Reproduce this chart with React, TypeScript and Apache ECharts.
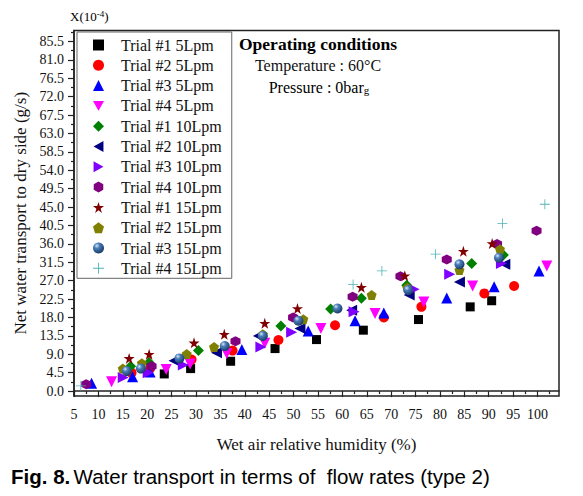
import React, { useEffect, useRef } from "react";
import * as echarts from "echarts";

const xTickLabels = [5, 10, 15, 20, 25, 30, 35, 40, 45, 50, 55, 60, 65, 70, 75, 80, 85, 90, 95, 100];
const xMinorTicks = [7.5, 12.5, 17.5, 22.5, 27.5, 32.5, 37.5, 42.5, 47.5, 52.5, 57.5, 62.5, 67.5, 72.5, 77.5, 82.5, 87.5, 92.5, 97.5, 102.5];
const yTickLabels = [0, 4.5, 9, 13.5, 18, 22.5, 27, 31.5, 36, 40.5, 45, 49.5, 54, 58.5, 63, 67.5, 72, 76.5, 81, 85.5];
const yMinorTicks = [2.25, 6.75, 11.25, 15.75, 20.25, 24.75, 29.25, 33.75, 38.25, 42.75, 47.25, 51.75, 56.25, 60.75, 65.25, 69.75, 74.25, 78.75, 83.25, 87.75];

const seriesNames = [
  "Trial #1 5Lpm", "Trial #2 5Lpm", "Trial #3 5Lpm", "Trial #4 5Lpm",
  "Trial #1 10Lpm", "Trial #2 10Lpm", "Trial #3 10Lpm", "Trial #4 10Lpm",
  "Trial #1 15Lpm", "Trial #2 15Lpm", "Trial #3 15Lpm", "Trial #4 15Lpm",
];

const t1_5 = [[23.5, 4.2], [28.9, 5.5], [37.1, 7.3], [46.2, 10.4], [54.7, 12.6], [64.3, 14.9], [75.6, 17.5], [86.2, 20.6], [90.6, 22.1]];
const t2_5 = [[16.8, 4.5], [20.6, 5.5], [29.1, 7.7], [37.5, 9.9], [46.9, 12.5], [58.5, 16.1], [68.5, 18.0], [76.2, 20.6], [89.1, 23.9], [95.2, 25.7]];
const t3_5 = [[8.6, 1.9], [17.0, 3.5], [20.6, 4.7], [39.4, 10.2], [53.0, 14.7], [62.6, 17.2], [68.5, 19.1], [81.4, 22.8], [91.1, 25.5], [100.3, 29.4]];
const t4_5 = [[12.7, 2.3], [23.9, 5.3], [28.8, 6.6], [36.3, 9.2], [44.1, 11.7], [55.6, 15.3], [66.7, 19.0], [76.7, 21.8], [86.7, 25.7], [101.9, 30.6]];
const t1_10 = [[16.6, 6.1], [20.4, 7.0], [30.5, 9.9], [47.4, 15.9], [57.6, 20.1], [63.9, 22.7], [73.2, 25.9], [86.5, 31.2], [93.0, 33.3]];
const t2_10 = [[25.5, 7.4], [34.2, 9.4], [42.8, 13.5], [51.3, 15.3], [61.9, 19.8], [73.7, 23.5], [84.0, 26.7], [93.3, 31.0]];
const t3_10 = [[15.1, 3.3], [20.2, 4.5], [27.4, 6.4], [43.3, 10.8], [49.6, 14.4], [62.4, 19.4], [74.7, 24.9], [82.0, 28.6], [92.6, 31.2]];
const t4_10 = [[7.5, 1.7], [20.9, 6.1], [38.1, 12.2], [49.9, 18.0], [62.1, 23.1], [71.9, 28.1], [81.4, 32.2], [91.7, 36.0], [99.8, 39.2]];
const t1_15 = [[16.3, 8.0], [20.4, 9.0], [29.6, 11.8], [35.8, 13.9], [44.1, 16.6], [50.8, 20.2], [63.9, 25.4], [72.8, 28.2], [84.8, 34.2], [90.7, 36.1]];
const t2_15 = [[15.0, 5.5], [18.9, 6.8], [28.1, 9.1], [33.7, 10.8], [43.7, 13.9], [52.0, 17.6], [66.0, 23.5], [73.3, 25.3], [84.0, 29.6], [92.3, 34.7]];
const t3_15 = [[15.8, 4.9], [18.7, 5.5], [26.6, 8.0], [35.9, 11.0], [43.7, 13.5], [51.0, 17.2], [59.0, 20.2], [73.5, 24.7], [84.0, 31.0], [92.1, 32.6]];
const t4_15 = [[6.4, 1.3], [62.2, 26.1], [68.1, 29.4], [79.1, 33.5], [92.8, 41.0], [101.5, 45.7]];

const seriesData = [t1_5, t2_5, t3_5, t4_5, t1_10, t2_10, t3_10, t4_10, t1_15, t2_15, t3_15, t4_15];

const HEX = "path://M5,0 L9.33,2.5 L9.33,7.5 L5,10 L0.67,7.5 L0.67,2.5 Z";
const STAR = "path://M5,0 L6.18,3.82 L10,3.82 L6.91,6.18 L8.09,10 L5,7.64 L1.91,10 L3.09,6.18 L0,3.82 L3.82,3.82 Z";
const PENT = "path://M5,0 L10,3.8 L8.1,10 L1.9,10 L0,3.8 Z";
const PLUS = "path://M0,4.6 L10,4.6 L10,5.4 L0,5.4 Z M4.6,0 L5.4,0 L5.4,10 L4.6,10 Z";
const TRI_DOWN = "path://M0,0 L10,0 L5,9 Z";
const TRI_LEFT = "path://M9,0 L9,10 L0,5 Z";
const TRI_RIGHT = "path://M0,0 L9,5 L0,10 Z";

const SERIF = "'Liberation Serif', 'Times New Roman', serif";
const SANS = "'Liberation Sans', Arial, sans-serif";

export default function App() {
  const ref = useRef<HTMLDivElement>(null);
  useEffect(() => {
    if (!ref.current) return;
    const chart = echarts.init(ref.current, undefined, { renderer: "svg" });
    const sphere = new echarts.graphic.RadialGradient(0.35, 0.3, 0.7, [
      { offset: 0, color: "#d8e6f6" },
      { offset: 0.35, color: "#4a7fba" },
      { offset: 1, color: "#1c3d6a" },
    ]);
    const styles: any[] = [
      { symbol: "rect", size: 9, color: "#000000" },
      { symbol: "circle", size: 10, color: "#ff0000" },
      { symbol: "triangle", size: 11, color: "#0000ff" },
      { symbol: TRI_DOWN, size: 11, color: "#ff00ff" },
      { symbol: "diamond", size: 11, color: "#008000" },
      { symbol: TRI_LEFT, size: 11, color: "#000080" },
      { symbol: TRI_RIGHT, size: 11, color: "#8000ff" },
      { symbol: HEX, size: 10, color: "#800080" },
      { symbol: STAR, size: 11, color: "#800000" },
      { symbol: PENT, size: 10, color: "#808000" },
      { symbol: "circle", size: 10, color: sphere },
      { symbol: PLUS, size: 10, color: "#4fb3b3" },
    ];
    const series = seriesNames.map((name, i) => ({
      name,
      type: "scatter",
      xAxisIndex: 0,
      yAxisIndex: 0,
      data: seriesData[i],
      symbol: styles[i].symbol,
      symbolSize: styles[i].size,
      itemStyle: { color: styles[i].color, opacity: 1 },
      z: 2 + i,
    }));
    chart.setOption({
      animation: false,
      backgroundColor: "#ffffff",
      grid: {
        left: 74,
        right: 24,
        top: 30.5,
        bottom: 100,
        show: true,
        borderColor: "#222",
        borderWidth: 1.5,
        containLabel: false,
      },
      legend: {
        orient: "vertical",
        left: 77,
        top: 32,
        width: 149,
        padding: [5, 10, 2, 16],
        borderColor: "#666",
        borderWidth: 1,
        itemWidth: 11,
        itemHeight: 11,
        itemGap: 4.3,
        formatter: (name: string) => "{p|}{n|" + name + "}",
        textStyle: {
          fontFamily: SERIF,
          fontSize: 16,
          color: "#111",
          lineHeight: 16,
          rich: {
            p: { width: 12, fontSize: 16, lineHeight: 16 },
            n: { fontFamily: SERIF, fontSize: 16, color: "#111", lineHeight: 16 },
          },
        },
        data: seriesNames,
      },
      xAxis: [
        {
          type: "value",
          min: 5,
          max: 104.4,
          position: "bottom",
          axisLine: { lineStyle: { color: "#222", width: 1.5 } },
          axisTick: { show: true, length: 6, customValues: xTickLabels, lineStyle: { color: "#222", width: 1.2 } },
          axisLabel: { customValues: xTickLabels, fontFamily: SERIF, fontSize: 14, color: "#111", margin: 11 },
          splitLine: { show: false },
          name: "Wet air relative humidity (%)",
          nameLocation: "middle",
          nameGap: 40,
          nameTextStyle: { fontFamily: SERIF, fontSize: 17, color: "#111" },
        },
        {
          type: "value",
          min: 5,
          max: 104.4,
          position: "bottom",
          offset: 0,
          axisLine: { show: false },
          axisTick: { show: true, length: 3, customValues: xMinorTicks, lineStyle: { color: "#222", width: 1.2 } },
          axisLabel: { show: false },
          splitLine: { show: false },
        },
      ],
      yAxis: [
        {
          type: "value",
          min: -1.2,
          max: 88.2,
          position: "left",
          axisLine: { show: true, lineStyle: { color: "#222", width: 1.5 } },
          axisTick: { show: true, length: 6, customValues: yTickLabels, lineStyle: { color: "#222", width: 1.2 } },
          axisLabel: {
            customValues: yTickLabels,
            fontFamily: SERIF,
            fontSize: 14,
            color: "#111",
            margin: 10,
            formatter: (v: number) => v.toFixed(1),
          },
          splitLine: { show: false },
          name: "Net water transport to dry side (g/s)",
          nameLocation: "middle",
          nameGap: 43,
          nameRotate: 90,
          nameTextStyle: { fontFamily: SERIF, fontSize: 17, color: "#111" },
        },
        {
          type: "value",
          min: -1.2,
          max: 88.2,
          position: "left",
          offset: 0,
          axisLine: { show: false },
          axisTick: { show: true, length: 3, customValues: yMinorTicks, lineStyle: { color: "#222", width: 1.2 } },
          axisLabel: { show: false },
          splitLine: { show: false },
        },
      ],
      graphic: [
        {
          type: "text",
          left: 70,
          top: 9,
          style: {
            text: "{a|X(10}{s|-4}{a|)}",
            rich: {
              a: { fontFamily: SERIF, fontSize: 13, color: "#111" },
              s: { fontFamily: SERIF, fontSize: 9, color: "#111", verticalAlign: "top", padding: [0, 0, 6, 0] },
            },
          },
        },
        {
          type: "text",
          x: 318,
          y: 44,
          style: {
            text: "Operating conditions",
            fontFamily: SERIF,
            fontSize: 17.5,
            fontWeight: "bold",
            fill: "#000",
            align: "center",
            verticalAlign: "middle",
          },
        },
        {
          type: "text",
          x: 318,
          y: 65,
          style: {
            text: "Temperature : 60°C",
            fontFamily: SERIF,
            fontSize: 16,
            fill: "#111",
            align: "center",
            verticalAlign: "middle",
          },
        },
        {
          type: "text",
          x: 319,
          y: 87,
          style: {
            text: "{a|Pressure : 0bar}{s|g}",
            align: "center",
            verticalAlign: "middle",
            rich: {
              a: { fontFamily: SERIF, fontSize: 16, color: "#111" },
              s: { fontFamily: SERIF, fontSize: 11, color: "#111", padding: [6, 0, 0, 0] },
            },
          },
        },
        {
          type: "text",
          left: 11,
          top: 466,
          style: {
            text: "{b|Fig. 8.} {n|Water transport in terms of  flow rates (type 2)}",
            rich: {
              b: { fontFamily: SANS, fontSize: 20.5, fontWeight: "bold", color: "#2356a3" },
              n: { fontFamily: SANS, fontSize: 20.5, color: "#111" },
            },
          },
        },
      ],
      series,
    });
    return () => chart.dispose();
  }, []);
  return <div ref={ref} style={{ position: "fixed", left: 0, top: 0, width: 583, height: 496 }} />;
}
